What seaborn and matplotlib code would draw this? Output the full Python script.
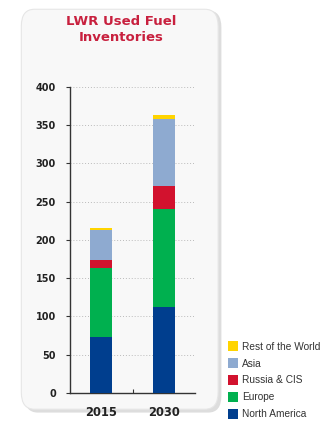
import matplotlib
matplotlib.use("Agg")
import matplotlib.pyplot as plt
import pandas as pd
import seaborn as sns
from matplotlib.patches import FancyBboxPatch, Patch

# Data
years = ["2015", "2030"]
north_america = [73, 112]
europe = [90, 129]
russia_cis = [11, 29]
asia = [39, 88]
rest_of_world = [3, 5]

series = ["North America", "Europe", "Russia & CIS", "Asia", "Rest of the World"]
colors = ["#003E8E", "#00B04F", "#D2122E", "#8EAAD0", "#FFD400"]

df = pd.DataFrame({
    "year": years,
    "North America": north_america,
    "Europe": europe,
    "Russia & CIS": russia_cis,
    "Asia": asia,
    "Rest of the World": rest_of_world,
})
cum = df[series].cumsum(axis=1)
cum["year"] = df["year"]

sns.set_style("white")
plt.rcParams['font.family'] = ['DejaVu Sans']

fig = plt.figure(figsize=(3.28, 4.21), dpi=100)
fig.patch.set_facecolor("white")

# rounded panel behind the chart
shadow = FancyBboxPatch((0.075, 0.02), 0.60, 0.955, boxstyle="round,pad=0,rounding_size=0.04",
                        transform=fig.transFigure, facecolor="#DDDDDD", edgecolor="none", zorder=-2)
panel = FancyBboxPatch((0.065, 0.028), 0.60, 0.95, boxstyle="round,pad=0,rounding_size=0.04",
                       transform=fig.transFigure, facecolor="#F8F8F8", edgecolor="#E6E6E6",
                       linewidth=0.8, zorder=-1)
fig.patches.extend([shadow, panel])

ax = fig.add_axes([0.213, 0.0665, 0.382, 0.727])
ax.set_facecolor("none")

# stacked bars: draw cumulative totals from the top segment down
for name, col in reversed(list(zip(series, colors))):
    sns.barplot(data=cum, x="year", y=name, color=col, width=0.35,
                saturation=1, linewidth=0, ax=ax, zorder=3)

ax.set_xlim(-0.5, 1.5)
ax.set_ylim(0, 400)
ax.set_yticks(range(0, 401, 50))
ax.yaxis.grid(True, linestyle=(0, (1, 2)), color="#BBBBBB", linewidth=0.7, zorder=0)
ax.set_axisbelow(True)
ax.set_xlabel("")
ax.set_ylabel("")
for s in ["top", "right"]:
    ax.spines[s].set_visible(False)
ax.spines["left"].set_color("#333333")
ax.spines["bottom"].set_color("#333333")
ax.spines["left"].set_linewidth(1.0)
ax.spines["bottom"].set_linewidth(1.0)
ax.tick_params(axis="y", left=True, length=3, width=0.8, color="#333333",
               labelsize=7, pad=7, labelcolor="#222222")
ax.tick_params(axis="x", bottom=False, labelsize=8.3, pad=6, labelcolor="#222222")
ax.set_xticks([0.5], minor=True)
ax.tick_params(axis="x", which="minor", bottom=True, direction="in", length=3,
               width=0.8, color="#333333")
for lbl in ax.get_yticklabels():
    lbl.set_fontweight("bold")
for lbl in ax.get_xticklabels():
    lbl.set_fontweight("bold")

fig.text(0.369, 0.93, "LWR Used Fuel\nInventories", ha="center", va="center",
         color="#C8203E", fontsize=9.5, fontweight="bold", linespacing=1.25)

handles = [Patch(facecolor=c, edgecolor="none") for c in reversed(colors)]
leg = fig.legend(handles, list(reversed(series)), loc="upper left",
                 bbox_to_anchor=(0.695, 0.19), frameon=False,
                 prop={"family": "Liberation Sans", "size": 7.3},
                 handlelength=1.0, handleheight=1.2, handletextpad=0.35,
                 labelspacing=0.62, borderpad=0, borderaxespad=0)
for t in leg.get_texts():
    t.set_color("#333333")

fig.savefig("out.png", dpi=100)
